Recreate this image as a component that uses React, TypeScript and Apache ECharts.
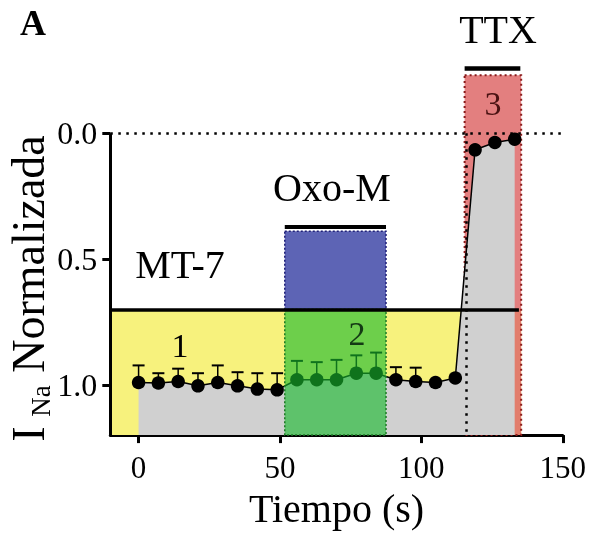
import React, { useEffect, useRef } from "react";
import * as echarts from "echarts";

// ---- data ----
const TIME_S = [0, 7, 14, 21, 28, 35, 42, 49, 56, 63, 70, 77, 84, 91, 98, 105, 112, 119, 126, 133];
const INA_NORM = [0.991, 0.993, 0.987, 1.004, 0.991, 1.004, 1.017, 1.02, 0.98, 0.98, 0.98, 0.954, 0.954, 0.98, 0.987, 0.991, 0.973, 0.066, 0.037, 0.024];
const INA_SEM = [0.068, 0.039, 0.051, 0.05, 0.068, 0.054, 0.063, 0.066, 0.075, 0.07, 0.079, 0.071, 0.082, 0.05, 0.055, 0, 0, 0, 0, 0];

const X_TICKS = [0, 50, 100, 150];
const Y_TICKS = [0, 0.5, 1.0];

// drug application periods [start, end]
const MT7_PERIOD = [-10, 134.5];
const OXO_PERIOD = [51.7, 87.5];
const TTX_PERIOD = [115.3, 135.3];
const MT7_LEVEL = 0.7;
const OXO_LEVEL = 0.372;
const OXO_TOP = 0.39;
const TTX_LEVEL = -0.258;
const TTX_TOP = -0.23;
const TTX_MARK = 116;

const FONT = "'Liberation Serif', 'Times New Roman', serif";

export default function App() {
  const ref = useRef<HTMLDivElement>(null);

  useEffect(() => {
    if (!ref.current) return;
    const chart = echarts.init(ref.current, null, { renderer: "svg" });

    const pts = TIME_S.map((x, i) => [x, INA_NORM[i]]);
    const errData = TIME_S.map((x, i) => [x, INA_NORM[i], INA_SEM[i]]);

    const seg = (x1: number, y1: number, x2: number, y2: number, lineStyle: any) => [
      { coord: [x1, y1], lineStyle },
      { coord: [x2, y2] },
    ];

    const text = (t: string, x: number, y: number, size: number, extra: any = {}) => ({
      type: "text",
      x,
      y,
      z: 100,
      rotation: extra.rotation || 0,
      style: {
        text: t,
        fontFamily: FONT,
        fontSize: size,
        fontWeight: extra.bold ? "bold" : "normal",
        fill: extra.color || "#000",
        align: "center",
        verticalAlign: "middle",
      },
    });

    const option: any = {
      animation: false,
      grid: { left: 110.3, right: 25.6, top: 57.7, bottom: 97.3 },
      xAxis: {
        type: "value",
        min: -10,
        max: 150,
        axisLine: { show: true, onZero: false, lineStyle: { color: "#000", width: 3 } },
        axisTick: { show: true, length: 8, lineStyle: { color: "#000", width: 3 }, customValues: X_TICKS },
        axisLabel: { customValues: X_TICKS, fontFamily: FONT, fontSize: 31, color: "#000", margin: 17 },
        splitLine: { show: false },
        name: "Tiempo (s)",
        nameLocation: "middle",
        nameGap: 44,
        nameTextStyle: { fontFamily: FONT, fontSize: 40, color: "#000" },
      },
      yAxis: {
        type: "value",
        inverse: true,
        min: -0.3,
        max: 1.2,
        axisLine: { show: false, onZero: false },
        axisTick: { show: true, length: 8, lineStyle: { color: "#000", width: 3 }, customValues: Y_TICKS },
        axisLabel: {
          customValues: Y_TICKS,
          formatter: (v: number) => v.toFixed(1),
          fontFamily: FONT,
          fontSize: 32,
          color: "#000",
          margin: 13,
        },
        splitLine: { show: false },
      },
      series: [
        {
          // background periods
          type: "line",
          data: [],
          z: 1,
          silent: true,
          markArea: {
            z: 1,
            silent: true,
            label: { show: false },
            data: [
              [
                { coord: [MT7_PERIOD[0], MT7_LEVEL], itemStyle: { color: "#f7f27d" } },
                { coord: [TTX_PERIOD[1], 1.2] },
              ],
              [
                {
                  coord: [TTX_PERIOD[0], TTX_TOP],
                  itemStyle: { color: "rgba(222,104,104,0.85)", borderColor: "#8b1a1a", borderWidth: 2, borderType: [2, 3] },
                },
                { coord: [TTX_PERIOD[1], 1.2] },
              ],
            ],
          },
        },
        {
          type: "custom",
          z: 3,
          silent: true,
          data: errData,
          encode: { x: 0, y: 1 },
          renderItem: (params: any, api: any) => {
            const x = api.value(0);
            const y = api.value(1);
            const e = api.value(2);
            if (!e) return { type: "group", children: [] };
            const p0 = api.coord([x, y]);
            const p1 = api.coord([x, y - e]);
            return {
              type: "group",
              children: [
                { type: "line", shape: { x1: p0[0], y1: p0[1], x2: p1[0], y2: p1[1] }, style: { stroke: "#000", lineWidth: 1.5 } },
                { type: "line", shape: { x1: p1[0] - 6, y1: p1[1], x2: p1[0] + 6, y2: p1[1] }, style: { stroke: "#000", lineWidth: 2 } },
              ],
            };
          },
        },
        {
          type: "line",
          z: 3,
          data: pts,
          symbol: "circle",
          symbolSize: 13.5,
          itemStyle: { color: "#000" },
          lineStyle: { color: "#000", width: 1.5 },
          areaStyle: { color: "#d0d0d0", opacity: 1, origin: "end" },
          silent: true,
        },
        {
          // Oxo-M overlay and dotted guides
          type: "line",
          data: [],
          z: 4,
          silent: true,
          markArea: {
            z: 4,
            silent: true,
            label: { show: false },
            data: [
              [
                {
                  coord: [OXO_PERIOD[0], OXO_TOP],
                  itemStyle: { color: "#5d64b5", borderColor: "#1f1f78", borderWidth: 1.5, borderType: [2, 2] },
                },
                { coord: [OXO_PERIOD[1], MT7_LEVEL] },
              ],
              [
                {
                  coord: [OXO_PERIOD[0], MT7_LEVEL],
                  itemStyle: { color: "rgba(25,185,45,0.62)", borderColor: "#1d7a25", borderWidth: 1.5, borderType: [2, 2] },
                },
                { coord: [OXO_PERIOD[1], 1.2] },
              ],
            ],
          },
          markLine: {
            z: 5,
            silent: true,
            symbol: ["none", "none"],
            label: { show: false },
            data: [
              seg(-10, 0, 150, 0, { color: "#000", width: 2.5, type: [2.5, 5.5] }),
              seg(TTX_MARK, 0, TTX_MARK, 1.2, { color: "#000", width: 2.5, type: [2.5, 5.5] }),
            ],
          },
        },
        {
          // solid lines: axis, period bars
          type: "line",
          data: [],
          z: 6,
          silent: true,
          markLine: {
            z: 6,
            silent: true,
            symbol: ["none", "none"],
            label: { show: false },
            data: [
              seg(-10, 0, -10, 1.2, { color: "#000", width: 3, type: "solid" }),
              seg(MT7_PERIOD[0], MT7_LEVEL, MT7_PERIOD[1], MT7_LEVEL, { color: "#000", width: 3.5, type: "solid" }),
              seg(OXO_PERIOD[0], OXO_LEVEL, OXO_PERIOD[1], OXO_LEVEL, { color: "#000", width: 4, type: "solid" }),
              seg(TTX_PERIOD[0], TTX_LEVEL, TTX_PERIOD[1] - 0.3, TTX_LEVEL, { color: "#000", width: 4.5, type: "solid" }),
            ],
          },
        },
      ],
      graphic: [
        text("A", 33, 23, 36, { bold: true }),
        text("TTX", 498, 29, 40),
        text("Oxo-M", 332, 187, 40),
        text("MT-7", 180, 264, 40),
        text("1", 180, 345, 34),
        text("2", 357, 333, 34, { color: "#143a14" }),
        text("3", 493, 103, 34, { color: "#4a1212" }),
        text("Normalizada", 28, 254, 46, { rotation: Math.PI / 2 }),
        text("I", 28, 434, 46, { rotation: Math.PI / 2 }),
        text("Na", 41, 401, 27, { rotation: Math.PI / 2 }),
      ],
    };

    chart.setOption(option);
    return () => chart.dispose();
  }, []);

  return <div ref={ref} style={{ position: "fixed", left: 0, top: 0, width: 589, height: 533 }} />;
}
